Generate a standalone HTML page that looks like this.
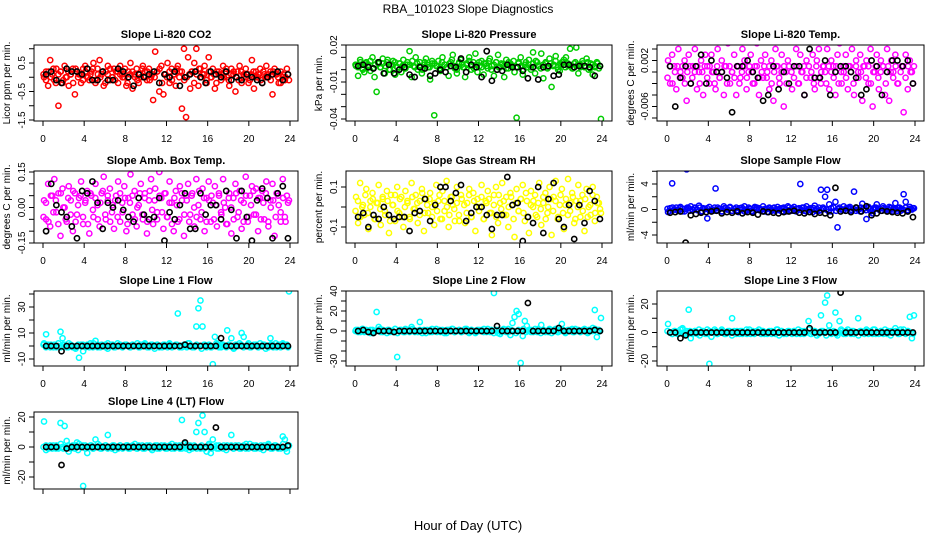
<!DOCTYPE html>
<html><head><meta charset="utf-8"><style>
html,body{margin:0;padding:0;background:#fff;}
svg{display:block;font-family:"Liberation Sans",sans-serif;}
</style></head><body>
<svg id="chart" width="936" height="540" viewBox="0 0 936 540" xmlns="http://www.w3.org/2000/svg">
<rect width="936" height="540" fill="#fff"/>
<text x="468" y="13" font-size="12" text-anchor="middle">RBA_101023  Slope Diagnostics</text>
<text x="468" y="530" font-size="13" text-anchor="middle">Hour of Day (UTC)</text>
</svg>
<script>
const xTicks = [0,4,8,12,16,20,24];
const co2Col = [0.0,0.2,-0.3,0.6,0.1,-0.1,0.3,-1.0,0.2,-0.2,0.4,0.0,-0.3,0.1,0.3,-0.6,0.2,0.1,-0.2,0.3,0.4,0.0,-0.1,0.2,0.5,-0.2,0.3,0.6,0.1,-0.3,0.2,0.4,-0.1,0.0,0.3,0.2,-0.2,0.4,0.1,0.0,-0.3,0.2,0.5,-0.4,0.1,0.3,-0.2,0.0,0.4,0.2,-0.1,0.3,0.0,-0.8,0.9,0.2,-0.5,0.4,-0.6,0.1,0.5,-0.2,0.3,0.1,-0.3,0.4,0.2,-1.1,1.0,-1.4,0.7,-0.4,0.2,0.5,1.0,-0.3,0.3,0.1,0.4,-0.2,0.7,0.0,0.3,-0.4,0.2,0.1,-0.1,0.4,0.2,0.0,-0.3,0.3,0.1,-0.5,0.2,0.4,-0.2,0.0,0.3,0.1,-0.1,0.6,-0.4,0.2,0.0,0.3,-0.2,0.1,0.4,0.0,0.2,-0.6,0.3,0.1,-0.2,0.2,0.0,-0.1,0.3,-0.1];
const co2Core = [0.1,-0.1,0.2,0.0,0.3,-0.2,0.1,0.2,-0.1,0.0,0.2,0.1,-0.2,0.3,0.0,0.1,-0.1,0.2,0.0,0.1,0.3,-0.1,0.1,0.0,0.2,-0.2,0.1,0.3,0.0,-0.1,0.2,0.1,0.0,0.3,-0.2,0.1,0.2,0.0,-0.1,0.1,0.3,0.0,0.2,-0.1,0.1,0.0,0.2,0.3,-0.2,0.1,0.0,0.2,-0.1,0.1,0.3,0.0,0.2,-0.1,0.0,0.1,0.2,-0.2,0.1,0.3,0.0,0.1,-0.1,0.2,0.0,0.1,-0.2,0.2,0.1,0.0,0.3,-0.1,0.1,0.2,0.0,-0.1,0.2,0.1,0.0,-0.2,0.1,0.2,0.0,0.1,-0.1,0.2,0.0,0.1,-0.1,0.2,0.1,0.0,-0.2,0.1,0.0,0.1];
const co2Blk = [0.1,0.2,-0.1,-0.2,0.3,0.2,0.2,0.1,0.3,-0.1,-0.1,0.2,-0.1,-0.1,0.3,0.2,0.0,-0.3,0.1,0.0,0.1,0.2,-0.2,0.1,0.0,0.2,-0.3,0.0,0.1,0.2,0.0,-0.2,0.2,0.1,0.0,0.2,-0.1,0.0,-0.1,0.1,0.0,-0.1,-0.2,0.0,0.1,0.2,-0.1,0.1];
const presCol = [0.003,-0.005,0.008,0.001,-0.002,0.006,0.004,-0.001,0.010,-0.006,-0.018,0.005,0.002,0.009,-0.003,0.006,0.000,0.004,0.007,-0.004,0.002,0.005,-0.002,0.008,0.001,0.004,0.015,-0.006,0.003,0.010,0.000,0.006,-0.003,0.004,0.009,0.002,-0.008,0.005,-0.037,0.003,0.007,-0.001,0.010,0.004,0.002,-0.005,0.006,0.012,0.001,-0.003,0.005,0.008,0.002,-0.006,0.004,0.010,0.000,0.006,0.013,-0.002,0.003,0.007,-0.004,0.005,0.001,0.009,0.003,-0.005,0.006,0.012,0.002,0.004,-0.006,0.008,0.001,0.005,0.003,-0.002,-0.039,0.006,0.010,-0.004,0.004,0.002,0.008,0.000,0.014,-0.003,0.006,0.003,0.013,-0.007,0.005,0.001,0.009,-0.014,0.004,0.011,0.002,-0.001,0.006,0.008,0.010,0.003,0.017,0.001,0.005,0.018,-0.003,0.004,0.007,0.002,0.009,0.000,0.005,-0.004,0.003,0.006,0.001,-0.040];
const presCore = [0.004,0.002,0.006,0.000,0.005,0.003,0.007,0.001,0.004,0.006,0.002,0.005,0.003,0.008,0.000,0.004,0.006,0.002,0.005,0.003,0.001,0.006,0.004,0.007,0.002,0.005,0.003,0.000,0.006,0.004,0.002,0.007,0.005,0.003,0.001,0.006,0.004,0.002,0.005,0.008,0.003,0.000,0.006,0.004,0.002,0.005,0.007,0.003,0.001,0.004,0.006,0.002,0.005,0.003,0.007,0.000,0.004,0.006,0.002,0.005,0.003,0.001,0.006,0.004,0.007,0.002,0.005,0.003,0.000,0.006,0.004,0.002,0.005,0.007,0.003,0.001,0.004,0.006,0.002,0.005,0.003,0.007,0.000,0.004,0.006,0.002,0.005,0.003,0.001,0.006,0.004,0.002,0.005,0.003,0.006,0.001,0.004,0.002,0.005,0.003];
const presBlk = [0.003,0.004,0.002,0.001,0.006,-0.003,0.004,-0.003,0.000,0.002,-0.004,-0.006,0.002,0.001,-0.005,-0.003,0.000,-0.002,0.003,0.002,0.009,-0.002,0.004,0.002,-0.006,0.015,-0.009,0.000,-0.001,0.004,0.002,0.002,-0.001,-0.007,0.002,-0.008,0.002,0.003,-0.005,-0.004,0.004,0.004,0.002,0.003,0.003,0.002,-0.005,0.003];
const tempCol = [0.002,-0.002,0.003,0.001,-0.003,0.004,0.000,-0.001,0.002,-0.005,0.003,-0.002,0.001,0.004,-0.003,0.000,0.002,-0.004,0.003,0.001,-0.002,0.003,0.000,-0.003,0.004,-0.001,0.002,-0.004,0.001,0.005,-0.002,0.000,0.003,-0.004,0.001,-0.001,0.004,0.002,-0.003,0.000,0.003,-0.002,0.001,0.005,-0.004,0.002,-0.001,0.003,0.000,-0.003,0.002,-0.005,0.004,0.001,-0.002,0.003,-0.006,0.000,0.002,0.006,-0.003,0.001,0.004,-0.002,0.003,0.000,-0.004,0.002,0.007,-0.001,0.003,-0.003,0.002,0.004,-0.002,0.001,0.000,0.004,-0.003,0.002,0.001,-0.004,0.003,0.005,-0.002,0.000,0.003,-0.003,0.001,0.004,-0.004,0.002,0.000,0.003,-0.005,0.001,0.002,-0.002,0.004,-0.006,0.000,0.003,-0.003,0.002,0.001,-0.004,0.004,-0.005,0.002,0.000,0.003,-0.002,0.006,0.001,-0.007,0.003,-0.003,0.002,0.000,0.001];
const tempCore = [-0.001,0.001,-0.002,0.000,0.001,-0.001,0.001,-0.002,0.000,0.001,-0.001,0.000,0.001,-0.002,0.000,0.001,-0.001,0.001,0.000,-0.002,0.001,-0.001,0.000,0.001,-0.002,0.001,0.000,-0.001,0.001,-0.002,0.000,0.001,-0.001,0.001,0.000,-0.002,0.001,-0.001,0.000,0.001,-0.001,0.001,-0.002,0.000,0.001,-0.001,0.000,0.001,-0.002,0.001,0.000,-0.001,0.001,-0.002,0.000,0.001,-0.001,0.001,0.000,-0.002,0.001,-0.001,0.000,0.001,-0.002,0.001,0.000,-0.001,0.001,-0.002,0.000,0.001,-0.001,0.001,0.000,-0.002,0.001,-0.001,0.000,0.001,-0.001,0.001,-0.002,0.000,0.001,-0.001,0.000,0.001,-0.002,0.001,0.000,-0.001,0.001,-0.002,0.000,0.001,-0.001,0.001,0.000,-0.002];
const tempBlk = [0.001,-0.006,-0.001,0.001,-0.002,0.001,0.003,-0.002,0.002,0.000,0.000,-0.001,-0.007,0.001,0.001,0.002,0.000,-0.001,-0.005,-0.004,0.001,-0.003,0.000,-0.002,0.001,0.001,-0.004,0.004,-0.001,-0.001,0.002,-0.004,0.000,0.001,0.001,0.000,-0.001,-0.004,-0.003,0.002,0.001,-0.004,0.000,0.002,0.002,0.001,0.002,-0.002];
const ambCol = [0.03,-0.05,0.10,-0.08,0.05,0.12,-0.02,0.06,-0.12,0.08,0.00,-0.06,0.09,0.03,-0.10,0.06,-0.03,0.04,0.11,-0.07,0.02,0.07,-0.11,0.05,-0.04,0.10,0.01,-0.08,0.06,0.13,-0.05,0.03,0.08,-0.02,-0.09,0.05,0.11,-0.06,0.02,0.09,-0.10,0.04,0.14,-0.03,0.07,-0.08,0.01,0.10,-0.05,0.06,-0.11,0.03,0.12,-0.07,0.08,-0.02,0.15,0.04,-0.09,0.06,-0.04,0.11,0.02,-0.10,0.07,-0.06,0.09,0.03,-0.12,0.05,0.10,-0.03,0.06,-0.08,0.12,0.01,-0.05,0.08,-0.10,0.04,0.11,-0.06,0.02,0.09,-0.08,0.05,-0.02,0.12,0.00,-0.07,0.06,-0.11,0.04,0.10,-0.04,0.07,-0.09,0.02,0.13,-0.06,0.05,0.09,-0.03,0.08,-0.10,0.04,0.07,-0.05,0.11,-0.08,0.03,0.10,-0.12,0.06,0.01,-0.06,0.12,-0.04,0.05,0.03];
const ambCore = [-0.04,0.02,-0.06,0.05,-0.02,0.03,-0.07,0.06,0.00,-0.05,0.04,-0.03,0.07,-0.06,0.01,0.05,-0.04,0.03,-0.07,0.06,-0.01,0.04,-0.05,0.02,0.07,-0.03,0.05,-0.06,0.01,0.03,-0.04,0.06,-0.02,0.04,-0.07,0.02,0.05,-0.05,0.00,0.06,-0.03,0.04,-0.06,0.07,-0.01,0.03,-0.05,0.05,-0.02,0.06,-0.04,0.02,-0.07,0.04,0.01,-0.05,0.06,-0.03,0.03,-0.06,0.05,0.00,-0.04,0.07,-0.02,0.04,-0.06,0.03,0.05,-0.05,0.01,0.06,-0.03,0.02,-0.07,0.04,0.00,-0.05,0.06,-0.02,0.03,-0.06,0.05,-0.04,0.01,0.07,-0.03,0.04,-0.05,0.02,0.06,-0.06,0.00,0.03,-0.04,0.05,-0.02,0.04,-0.06,0.02];
const ambBlk = [-0.10,0.10,0.01,-0.02,-0.04,-0.08,-0.13,0.07,0.06,0.11,0.02,-0.09,0.02,0.00,0.03,-0.01,-0.04,-0.06,0.04,-0.03,-0.05,-0.04,0.04,-0.14,-0.02,-0.05,0.01,0.06,-0.09,-0.09,0.06,-0.03,0.01,0.01,-0.05,0.07,-0.01,-0.13,0.07,-0.04,-0.14,0.03,0.08,0.04,-0.13,0.06,0.09,-0.13];
const rhCol = [0.05,-0.08,0.12,0.00,-0.04,0.09,-0.11,0.03,0.07,-0.06,0.02,0.11,-0.09,0.04,-0.02,0.08,-0.13,0.06,0.01,-0.07,0.10,-0.03,0.05,-0.10,0.08,0.02,-0.05,0.12,-0.01,0.06,-0.08,0.03,0.09,-0.12,0.04,-0.03,0.07,0.00,-0.09,0.11,0.03,-0.06,0.08,-0.02,0.13,-0.10,0.05,0.01,-0.07,0.10,-0.04,0.06,0.22,-0.08,0.02,0.09,-0.05,0.07,-0.12,0.04,0.00,0.11,-0.06,0.03,0.08,-0.03,-0.14,0.06,0.10,-0.08,0.02,0.12,-0.04,0.05,-0.10,0.07,0.01,-0.15,0.09,-0.02,0.04,0.11,-0.07,0.03,-0.13,0.08,0.00,0.06,-0.05,0.12,-0.09,0.02,0.07,-0.03,0.10,-0.14,0.05,0.13,-0.06,0.01,0.09,-0.11,0.04,0.14,-0.02,0.07,-0.08,0.03,0.11,-0.05,0.06,-0.12,0.09,0.00,-0.04,0.10,-0.07,0.05,0.02,-0.03];
const rhCore = [-0.02,0.03,-0.05,0.01,0.06,-0.03,0.00,0.04,-0.06,0.02,-0.01,0.05,-0.04,0.03,-0.07,0.01,0.06,-0.02,0.04,-0.05,0.00,0.03,-0.06,0.05,-0.01,0.02,-0.04,0.07,-0.03,0.01,0.04,-0.05,0.02,-0.02,0.06,-0.06,0.03,0.00,-0.04,0.05,-0.01,0.02,-0.07,0.04,0.01,-0.03,0.06,-0.05,0.03,0.00,-0.02,0.05,-0.06,0.02,0.04,-0.03,0.01,-0.05,0.06,-0.01,0.03,-0.04,0.00,0.05,-0.06,0.02,-0.02,0.04,-0.03,0.07,-0.05,0.01,0.03,-0.04,0.02,-0.01,0.05,-0.06,0.00,0.04,-0.02,0.03,-0.05,0.06,-0.03,0.01,-0.04,0.02,0.05,-0.06,0.00,0.03,-0.02,0.04,-0.05,0.01,0.06,-0.03,0.02,-0.01];
const rhBlk = [-0.05,-0.03,-0.10,-0.04,-0.06,0.00,-0.04,-0.06,-0.05,-0.05,-0.12,-0.03,-0.02,0.04,-0.07,0.01,0.10,0.10,0.03,0.07,0.11,-0.07,-0.03,0.00,0.00,-0.04,-0.11,-0.04,-0.04,0.15,0.01,0.02,-0.17,-0.05,-0.08,0.10,-0.13,0.04,0.12,-0.06,-0.10,0.01,-0.16,0.01,-0.08,0.08,0.03,-0.06];
const sampCol = [-0.4,0.2,4.1,0.0,0.3,-0.2,0.4,0.1,-0.3,6.3,0.2,0.5,-0.1,0.3,0.0,0.6,-0.3,0.2,0.1,-1.4,0.4,0.0,-0.2,3.3,0.3,0.1,-0.3,0.5,0.2,0.0,0.4,-0.2,0.1,0.3,-0.4,0.2,0.0,0.5,-0.2,0.3,0.1,-0.3,0.4,0.0,0.2,-0.1,0.5,0.1,-0.4,0.3,0.0,0.2,-0.2,0.4,0.1,-0.3,0.3,0.0,0.5,-0.1,0.2,0.4,-0.3,0.1,4.0,0.3,-0.2,0.5,0.0,0.2,-0.4,0.6,0.1,-0.2,3.1,0.3,2.0,3.1,0.8,-0.3,0.4,1.2,-2.8,0.3,0.0,0.5,-0.2,0.2,0.4,-0.1,2.8,0.3,0.0,-0.3,0.9,0.2,-1.5,0.4,0.1,-0.6,0.3,0.8,0.0,-0.2,0.5,0.1,-0.3,0.4,0.2,0.0,1.0,-0.2,0.3,0.1,2.4,1.2,-0.3,0.4,0.0,0.2];
const sampCore = [0.1,-0.2,0.3,0.0,-0.1,0.2,-0.3,0.1,0.3,-0.2,0.0,0.2,-0.1,0.3,-0.3,0.1,0.2,-0.2,0.0,0.3,-0.1,0.1,-0.3,0.2,0.0,0.3,-0.2,0.1,-0.1,0.2,0.3,-0.3,0.0,0.1,-0.2,0.2,0.3,-0.1,0.0,-0.3,0.1,0.2,-0.2,0.3,0.0,-0.1,0.2,0.1,-0.3,0.3,-0.2,0.0,0.1,0.2,-0.1,0.3,-0.3,0.1,0.0,0.2,-0.2,0.3,-0.1,0.1,0.0,-0.3,0.2,0.3,-0.2,0.1,0.0,-0.1,0.2,0.3,-0.3,0.1,-0.2,0.0,0.3,0.1,-0.1,0.2,-0.3,0.0,0.3,0.1,-0.2,0.2,-0.1,0.0,0.3,-0.3,0.1,0.2,-0.2,0.0,0.3,-0.1,0.1,0.2];
const sampBlk = [-0.5,-0.4,-0.3,-5.2,-0.9,-0.7,-0.5,-0.4,-0.3,-0.2,-0.6,-0.4,-0.5,-0.3,-0.6,-0.4,-0.5,-0.8,-0.3,-0.4,-0.5,-0.6,-0.4,-0.3,-0.2,-0.5,-0.6,-0.4,-0.7,-0.5,-0.6,-0.9,3.4,-0.3,-0.2,-0.4,0.3,-0.3,0.5,-0.9,-0.6,-0.2,-0.3,-0.4,-0.5,-0.6,-0.3,-1.2];
const l1Col = [2,9,1,-1,0,1,-1,0,11,6,1,-1,2,0,-1,-1,0,-9,1,-4,0,1,-1,0,2,4,-1,0,1,0,-1,2,0,1,-1,0,0,1,-1,0,1,0,-1,1,0,0,-1,1,0,2,0,-1,1,0,0,1,-1,0,1,0,-1,1,0,0,1,25,0,-1,1,0,2,0,-1,0,15,29,35,15,1,-1,0,-1,-14,7,1,0,-1,1,0,12,0,6,-1,1,0,2,10,7,0,1,-1,0,1,0,-1,2,0,1,0,-1,6,1,0,-1,1,0,2,0,1,42];
const l1Core = [1,-1,0,1,-1,0,2,-1,1,0,-1,1,0,-2,1,0,1,-1,0,2,-1,0,1,-1,0,1,-2,0,1,-1,2,0,-1,1,0,-1,1,0,2,-1,0,1,-1,0,1,-2,1,0,-1,1,0,2,-1,0,1,-1,0,1,-1,2,0,-1,1,0,-2,1,0,1,-1,0,2,-1,1,0,-1,1,0,-2,1,0,1,-1,0,2,-1,0,1,-1,0,1,-2,0,1,-1,2,0,-1,1,0,-1];
const l1Blk = [0,0,0,-4,0,0,0,0,0,0,0,0,0,0,0,0,0,0,0,0,0,0,0,0,0,0,0,1,0,0,0,0,0,0,6,0,0,0,0,0,0,0,0,0,0,0,0,0];
const l2Col = [1,-1,0,2,-1,1,0,-2,1,0,19,4,-1,1,0,-2,1,0,-1,2,-26,0,1,-1,2,0,-1,4,1,0,-1,9,0,1,-2,0,1,-1,0,2,0,-1,1,0,-2,1,0,2,-1,0,1,-1,0,2,0,-1,1,0,-2,1,0,1,-1,0,2,-1,0,38,1,-2,-3,0,1,-1,2,-4,8,14,20,17,-32,-5,10,5,1,-1,0,2,-1,0,6,1,-1,0,2,-2,1,0,-1,1,7,0,-1,1,0,2,-1,0,1,-1,0,2,-1,1,0,3,21,-6,1,13];
const l2Core = [0,1,-1,2,0,-1,1,-2,0,1,2,-1,0,1,-1,0,2,-2,1,0,-1,1,0,2,-1,0,1,-2,0,1,-1,2,0,-1,1,0,-2,1,0,2,-1,0,1,-1,0,2,-2,1,0,-1,1,0,2,-1,0,1,-2,0,1,-1,2,0,-1,1,0,-2,1,0,2,-1,0,1,-1,0,2,-2,1,0,-1,1,0,2,-1,0,1,-2,0,1,-1,2,0,-1,1,0,-2,1,0,2,-1,0];
const l2Blk = [0,1,-1,-2,0,0,0,-1,0,0,0,0,0,0,0,0,0,0,0,0,0,0,0,0,0,0,0,5,0,0,0,0,0,28,0,0,0,0,0,3,0,0,0,0,0,0,1,0];
const l3Col = [6,0,-1,1,0,-1,2,3,0,1,16,-4,0,1,-1,2,0,1,-1,2,-22,-3,0,1,-1,0,2,0,-1,1,0,10,1,-1,0,1,-1,0,2,0,-1,1,0,0,2,-1,1,0,-1,0,1,0,-1,2,0,1,-1,0,1,0,-1,1,0,2,-1,0,1,0,8,-1,0,1,-2,0,12,1,21,26,5,-1,0,14,-2,8,1,0,-1,2,0,1,-1,0,10,1,0,-1,2,0,1,-1,2,0,-1,1,0,2,-1,0,1,0,3,1,-1,0,2,0,1,11,-4,12];
const l3Core = [1,0,-1,1,-1,0,2,-1,0,1,-1,1,0,-2,1,0,-1,1,0,2,-1,0,1,-1,0,1,-2,0,1,-1,1,0,-1,2,0,-1,1,0,1,-1,0,1,-1,0,2,-2,1,0,-1,1,0,1,-1,0,1,-1,0,2,-1,1,0,-1,1,0,-2,1,0,1,-1,0,2,-1,1,0,-1,1,0,-2,1,0,1,-1,0,2,-1,0,1,-1,0,1,-2,0,1,-1,2,0,-1,1,0,-1];
const l3Blk = [0,0,-4,-2,0,0,0,0,0,0,0,0,0,0,0,0,0,0,0,0,0,0,0,0,0,0,0,3,0,0,0,0,0,28,0,0,0,0,0,0,0,0,0,0,0,0,0,0];
const l4Col = [17,-2,0,1,-1,0,1,-1,16,0,14,4,-3,0,1,-1,3,2,0,-26,1,-4,0,1,-1,5,0,1,-1,0,1,8,0,-1,1,0,-1,1,0,0,1,-1,0,1,0,-1,1,0,-1,0,1,0,-1,0,1,-1,0,1,0,-1,0,1,-1,0,1,0,-1,18,2,-1,0,1,-1,0,10,16,-1,21,10,-3,1,-4,5,0,-1,1,0,-1,0,1,0,8,-1,1,0,-1,0,1,-1,0,2,0,-1,1,0,-1,0,1,0,2,0,-1,1,0,0,-1,7,5,-3,1];
const l4Core = [0,1,-1,0,1,-1,0,2,-1,0,1,-1,0,1,-2,0,1,-1,0,1,-1,0,2,-1,0,1,-1,0,1,-2,0,1,-1,0,1,-1,0,2,-1,0,1,-1,0,1,-2,0,1,-1,0,1,-1,0,2,-1,0,1,-1,0,1,-2,0,1,-1,0,1,-1,0,2,-1,0,1,-1,0,1,-2,0,1,-1,0,1,-1,0,2,-1,0,1,-1,0,1,-2,0,1,-1,0,1,-1,0,2,-1,0];
const l4Blk = [0,0,0,-12,-1,0,0,0,0,0,0,0,0,0,0,0,0,0,0,0,0,0,0,0,0,0,0,3,0,0,0,0,0,13,0,0,0,0,0,0,0,0,0,0,0,0,0,1];

const NS = "http://www.w3.org/2000/svg";
const svg = document.getElementById("chart");
function mk(tag, attrs, parent){const e=document.createElementNS(NS,tag);for(const k in attrs)e.setAttribute(k,attrs[k]);(parent||svg).appendChild(e);return e;}

const cols=[{l:34,r:298,x0:43,x24:290,yl:10},{l:346,r:612,x0:355,x24:602,yl:322},{l:657,r:924,x0:667,x24:915,yl:634}];
const rows=[{t:45,b:121},{t:171,b:243},{t:291,b:366},{t:412,b:489}];

const panels=[
 {name:"co2",title:"Slope Li-820 CO2",ylab:"Licor ppm per min.",c:0,r:0,color:"#ff0000",col:co2Col,core:co2Core,blk:co2Blk,v1:0.5,p1:63,v2:-1.5,p2:120,ticks:[1,0.5,0,-0.5,-1,-1.5],labels:["","0.5","","-0.5","","-1.5"],xl:true},
 {name:"pressure",title:"Slope Li-820 Pressure",ylab:"kPa per min.",c:1,r:0,color:"#00cd00",col:presCol,core:presCore,blk:presBlk,v1:0.02,p1:45,v2:-0.04,p2:119,ticks:[0.02,0.01,0,-0.01,-0.02,-0.03,-0.04],labels:["0.02","","","-0.01","","","-0.04"],xl:true},
 {name:"li820-temp",title:"Slope Li-820 Temp.",ylab:"degrees C per min.",c:2,r:0,color:"#ff00ff",col:tempCol,core:tempCore,blk:tempBlk,v1:0.004,p1:49,v2:-0.008,p2:118,ticks:[0.004,0.002,0,-0.002,-0.004,-0.006,-0.008],labels:["","0.002","","","","-0.006",""],xl:true},
 {name:"amb-box-temp",title:"Slope Amb. Box Temp.",ylab:"degrees C per min.",c:0,r:1,color:"#ff00ff",col:ambCol,core:ambCore,blk:ambBlk,v1:0.15,p1:172,v2:-0.15,p2:243,ticks:[0.15,0.1,0.05,0,-0.05,-0.1,-0.15],labels:["0.15","","","0.00","","","-0.15"],xl:true},
 {name:"gas-stream-rh",title:"Slope Gas Stream RH",ylab:"percent per min.",c:1,r:1,color:"#ffff00",col:rhCol,core:rhCore,blk:rhBlk,v1:0.1,p1:187,v2:-0.1,p2:227,ticks:[0.1,0,-0.1],labels:["0.1","","-0.1"],xl:true},
 {name:"sample-flow",title:"Slope Sample Flow",ylab:"ml/min per min.",c:2,r:1,color:"#0000ff",col:sampCol,core:sampCore,blk:sampBlk,v1:4,p1:184,v2:-4,p2:235,ticks:[6,4,2,0,-2,-4],labels:["","4","","0","","-4"],xl:true},
 {name:"line1-flow",title:"Slope Line 1 Flow",ylab:"ml/min per min.",c:0,r:2,color:"#00ffff",col:l1Col,core:l1Core,blk:l1Blk,v1:40,p1:294,v2:-10,p2:359,ticks:[40,30,20,10,0,-10],labels:["","30","","10","","-10"],xl:true},
 {name:"line2-flow",title:"Slope Line 2 Flow",ylab:"ml/min per min.",c:1,r:2,color:"#00ffff",col:l2Col,core:l2Core,blk:l2Blk,v1:40,p1:291,v2:-30,p2:361,ticks:[40,30,20,10,0,-10,-20,-30],labels:["40","","20","","0","","","-30"],xl:true},
 {name:"line3-flow",title:"Slope Line 3 Flow",ylab:"ml/min per min.",c:2,r:2,color:"#00ffff",col:l3Col,core:l3Core,blk:l3Blk,v1:20,p1:304,v2:-20,p2:361,ticks:[20,10,0,-10,-20],labels:["20","","0","","-20"],xl:true},
 {name:"line4-flow",title:"Slope Line 4 (LT) Flow",ylab:"ml/min per min.",c:0,r:3,color:"#00ffff",col:l4Col,core:l4Core,blk:l4Blk,v1:20,p1:417,v2:-20,p2:477,ticks:[20,10,0,-10,-20],labels:["20","","0","","-20"],xl:false}
];

panels.forEach(p=>{
 const C=cols[p.c],R=rows[p.r];
 const xs=h=>C.x0+(C.x24-C.x0)*h/24;
 const ys=v=>p.p1+(v-p.v1)*(p.p2-p.p1)/(p.v2-p.v1);
 const g=mk("g",{});
 
 
 const clip=mk("clipPath",{id:"clip-"+p.name},g);
 mk("rect",{x:C.l,y:R.t,width:C.r-C.l,height:R.b-R.t},clip);
 const pts=mk("g",{"clip-path":"url(#clip-"+p.name+")"},g);
 
 
 p.col.forEach((v,i)=>{
  const c=mk("circle",{cx:xs(i*24/p.col.length+0.1),cy:ys(v),r:2.6,fill:"none",stroke:p.color,"stroke-width":1.5},pts);
  
  
 });
 p.core.forEach((v,i)=>{
  const c=mk("circle",{cx:xs(i*24/p.core.length+0.05),cy:ys(v),r:2.6,fill:"none",stroke:p.color,"stroke-width":1.5},pts);
  
  
 });
 p.blk.forEach((v,i)=>{
  const c=mk("circle",{cx:xs(i*24/p.blk.length+0.3),cy:ys(v),r:2.6,fill:"none",stroke:"#000","stroke-width":1.6},pts);
  
  
 });
 const box=mk("rect",{x:C.l,y:R.t,width:C.r-C.l,height:R.b-R.t,fill:"none",stroke:"#000","stroke-width":1},g);
 
 
 const t=mk("text",{x:(C.l+C.r)/2,y:R.t-7,"font-size":11,"font-weight":"bold","text-anchor":"middle"},g);
 t.textContent=p.title;
 
 
 const yl=mk("text",{transform:"translate("+C.yl+","+((R.t+R.b)/2)+") rotate(-90)","font-size":10,"text-anchor":"middle"},g);
 yl.textContent=p.ylab;
 
 
 xTicks.forEach(h=>{
  const x=xs(h);
  mk("line",{x1:x,x2:x,y1:R.b,y2:R.b+5,stroke:"#000"},g);
  if(p.xl){
   const tl=mk("text",{x:x,y:R.b+21,"font-size":10,"text-anchor":"middle"},g);
   tl.textContent=h;
   
   
  }
 });
 p.ticks.forEach((v,i)=>{
  const y=ys(v);
  mk("line",{x1:C.l-5,x2:C.l,y1:y,y2:y,stroke:"#000"},g);
  if(p.labels[i]){
   const tl=mk("text",{transform:"translate("+(C.l-9)+","+y+") rotate(-90)","font-size":10,"text-anchor":"middle"},g);
   tl.textContent=p.labels[i];
   
   
  }
 });
});
</script>
</body></html>
